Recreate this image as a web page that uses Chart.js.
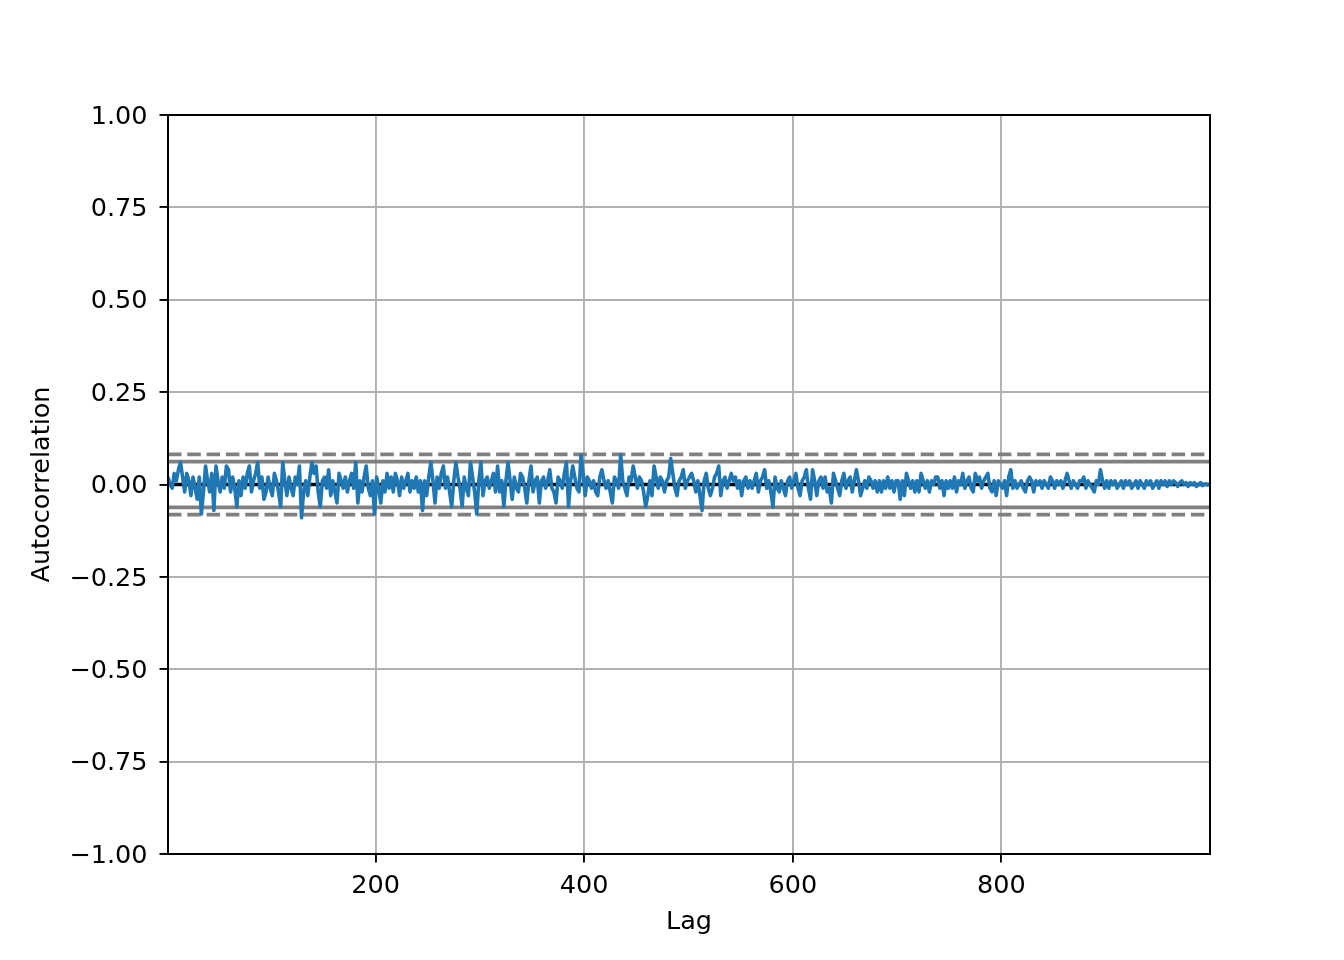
<!DOCTYPE html>
<html>
<head>
<meta charset="utf-8">
<title>Autocorrelation</title>
<script src="https://cdn.jsdelivr.net/npm/chart.js@4/dist/chart.umd.min.js"></script>
<style>
  html, body { margin: 0; padding: 0; background: #fff; }
  canvas { display: block; }
</style>
</head>
<body>
<canvas id="acfChart" width="1344" height="960"></canvas>
<script>
// autocorrelation, one value every 2 lags (lag 1 .. 999)
const firstLag = 1;
const lagStep = 2;
const corrValues = [
   0.02,  0.00, -0.01,  0.03,  0.01,  0.04,  0.06,  0.02, -0.02,  0.03,  0.01, -0.03,  0.02, -0.01, -0.04,  0.02, -0.08, -0.02,  0.05,  0.01, -0.02,  0.03, -0.07,  0.05,  0.01,
  -0.02,  0.02, -0.01,  0.05,  0.04, -0.02,  0.02, -0.01, -0.06,  0.01, -0.03,  0.02, -0.01,  0.03,  0.05, -0.02,  0.01,  0.03,  0.06, -0.01,  0.02, -0.04, -0.02,  0.02, -0.01,
  -0.03,  0.03,  0.01, -0.02, -0.06,  0.06,  0.01, -0.03,  0.02, -0.01, -0.03,  0.02,  0.00,  0.05, -0.09, -0.02,  0.01, -0.03,  0.02,  0.06,  0.03,  0.05, -0.02, -0.06,  0.01,
   0.02, -0.01,  0.04, -0.03,  0.01, -0.02, -0.05,  0.03,  0.01, -0.01,  0.02, -0.02,  0.01,  0.03, -0.01,  0.06, -0.05,  0.01, -0.02,  0.02,  0.05, -0.01, -0.03,  0.01, -0.08,
   0.02, -0.01, -0.05,  0.01, -0.02,  0.03, -0.01,  0.02, -0.02,  0.03,  0.01, -0.03,  0.02, -0.01,  0.01,  0.03, -0.02,  0.01, -0.01,  0.02, -0.02,  0.01, -0.07,  0.01, -0.03,
   0.02,  0.06,  0.01, -0.05,  0.02, -0.01,  0.03,  0.05, -0.01,  0.02, -0.02, -0.06,  0.01,  0.06,  0.02, -0.01, -0.06,  0.02, -0.01, -0.03,  0.06,  0.02, -0.02, -0.08,  0.01,
   0.06, -0.03,  0.01,  0.02, -0.01,  0.01,  0.03, -0.02,  0.05, -0.02,  0.01, -0.06,  0.01,  0.06,  0.01, -0.04,  0.02, -0.01, -0.02,  0.03,  0.02, -0.01, -0.05,  0.01,  0.05,
  -0.02,  0.01,  0.02, -0.05,  0.01,  0.02, -0.01,  0.01,  0.04, -0.01, -0.02, -0.05,  0.02,  0.01, -0.01,  0.03,  0.06, -0.06,  0.01,  0.05,  0.02, -0.01, -0.02,  0.08,  0.03,
  -0.03,  0.02,  0.01, -0.01,  0.01, -0.02, -0.03,  0.02,  0.04,  0.01, -0.01,  0.01, -0.02, -0.05,  0.02,  0.01, -0.01,  0.08,  0.01, -0.01, -0.03,  0.02,  0.01,  0.05,  0.02,
  -0.01,  0.02,  0.01, -0.02, -0.06, -0.03,  0.01, -0.03,  0.05,  0.02, -0.01,  0.02,  0.01, -0.02,  0.01,  0.02,  0.07,  0.03, -0.01, -0.03,  0.01,  0.02,  0.04, -0.01,  0.01,
   0.02,  0.03,  0.01, -0.02,  0.01, -0.03, -0.07,  0.01,  0.03, -0.01, -0.03, -0.01,  0.02,  0.03,  0.05, -0.03,  0.01,  0.02, -0.01,  0.01,  0.03,  0.01,  0.02, -0.01,  0.01,
  -0.03,  0.01,  0.02, -0.01,  0.01, -0.01,  0.01,  0.03, -0.02,  0.01,  0.02,  0.04, -0.01,  0.01, -0.02, -0.06,  0.02, -0.01, -0.02,  0.01, -0.01, -0.03,  0.01,  0.02, -0.01,
   0.01,  0.03, -0.01, -0.03,  0.01,  0.02,  0.04, -0.01, -0.04,  0.04,  0.01, -0.03,  0.01,  0.02, -0.01,  0.02, -0.02, -0.01, -0.05,  0.03,  0.01, -0.01, -0.03,  0.01,  0.03,
  -0.01,  0.01,  0.02, -0.02,  0.01,  0.04,  0.01, -0.03, -0.01,  0.01, -0.01,  0.02,  0.01, -0.01,  0.01, -0.02,  0.01, -0.02,  0.01, -0.01,  0.02, -0.01,  0.01, -0.02,  0.01,
   0.01, -0.04,  0.01, -0.03,  0.03,  0.01, -0.01,  0.01, -0.02,  0.01, -0.02,  0.03,  0.01, -0.01,  0.01, -0.02,  0.01,  0.00,  0.02,  0.02, -0.01,  0.01, -0.03,  0.01, -0.01,
   0.01, -0.01,  0.02, -0.02,  0.01,  0.00,  0.03, -0.01,  0.01,  0.02, -0.01, -0.02,  0.03,  0.01,  0.02, -0.01,  0.01,  0.02,  0.03, -0.01, -0.02,  0.01, -0.03,  0.01,  0.00,
  -0.01,  0.01, -0.03,  0.02,  0.04, -0.01,  0.01, -0.01,  0.00,  0.01, -0.01, -0.02,  0.01,  0.02,  0.01, -0.02,  0.01,  0.00,  0.01, -0.01,  0.01,  0.00, -0.01,  0.02,  0.01,
  -0.01,  0.01,  0.00,  0.01, -0.01,  0.01,  0.03,  0.01, -0.01,  0.01,  0.00, -0.01,  0.01,  0.01,  0.02, -0.01,  0.01,  0.00, -0.01, -0.02,  0.01,  0.00,  0.04,  0.01, -0.01,
   0.01, -0.01,  0.01,  0.00,  0.01, -0.01,  0.00,  0.01, -0.01,  0.01,  0.00,  0.01, -0.01,  0.00,  0.01, -0.01,  0.01,  0.00, -0.01,  0.01,  0.00,  0.01, -0.01,  0.00,  0.01,
  -0.01,  0.01,  0.00,  0.01, -0.005, 0.01,  0.00,  0.01,  0.005, -0.005, 0.005, 0.01,  0.00,  0.005, -0.005, 0.005, 0.00,  0.005, -0.005, 0.00,  0.005, -0.003, 0.002, 0.00, -0.002
];
const lags = corrValues.map((v, i) => firstLag + lagStep * i);

// confidence bands for n = 1000 (95% solid, 99% dashed)
const conf95 = 0.062;
const conf99 = 0.0815;
const lagRange = [1, 1000];

const lagTicks = [200, 400, 600, 800];
const corrTicks = [-1, -0.75, -0.5, -0.25, 0, 0.25, 0.5, 0.75, 1];

function hline(y, color, dash) {
    return {
        data: lagRange.map(x => ({ x: x, y: y })),
        borderColor: color,
        borderWidth: 3.6,
        borderDash: dash || [],
        pointRadius: 0,
        order: 1
    };
}

// matplotlib draws all four spines on top of the data
const frame = {
    id: 'frame',
    afterDraw(chart) {
        const { ctx, chartArea: a } = chart;
        ctx.save();
        ctx.strokeStyle = '#000';
        ctx.lineWidth = 2;
        ctx.strokeRect(a.left, a.top, a.right - a.left, a.bottom - a.top);
        ctx.restore();
    }
};

Chart.defaults.font.family = 'DejaVu Sans';
Chart.defaults.font.size = 25.5;
Chart.defaults.color = '#000';

const ctx = document.getElementById('acfChart').getContext('2d');
new Chart(ctx, {
    type: 'line',
    data: {
        datasets: [
            {
                data: corrValues.map((v, i) => ({ x: lags[i], y: v })),
                borderColor: '#1f77b4',
                borderWidth: 3.6,
                borderJoinStyle: 'round',
                pointRadius: 0,
                tension: 0,
                order: 0
            },
            hline(conf99, '#808080', [13.5, 5.8]),
            hline(conf95, '#808080'),
            hline(0, '#000000'),
            hline(-conf95, '#808080'),
            hline(-conf99, '#808080', [13.5, 5.8])
        ]
    },
    options: {
        responsive: false,
        devicePixelRatio: 1,
        animation: false,
        layout: { padding: { left: 0, top: 115, right: 134, bottom: 0 } },
        plugins: {
            legend: { display: false },
            tooltip: { enabled: false }
        },
        scales: {
            x: {
                type: 'linear',
                min: lagRange[0],
                max: lagRange[1],
                afterBuildTicks: function(scale) {
                    scale.ticks = lagTicks.map(v => ({ value: v }));
                },
                afterFit: function(scale) { scale.height = 106; },
                ticks: { maxRotation: 0, padding: 9 },
                grid: { color: '#b0b0b0', lineWidth: 1.9, tickColor: '#000', tickLength: 8.5, tickWidth: 1.9 },
                border: { color: '#000', width: 2 },
                title: { display: true, text: 'Lag', padding: { top: 0, bottom: 22 } }
            },
            y: {
                min: -1,
                max: 1,
                afterBuildTicks: function(scale) {
                    scale.ticks = corrTicks.map(v => ({ value: v }));
                },
                afterFit: function(scale) { scale.width = 168; },
                ticks: {
                    padding: 12,
                    labelOffset: 2,
                    callback: function(value) {
                        return value.toFixed(2).replace('-', '\u2212');
                    }
                },
                grid: { color: '#b0b0b0', lineWidth: 1.9, tickColor: '#000', tickLength: 8.5, tickWidth: 1.9 },
                border: { color: '#000', width: 2 },
                title: { display: true, text: 'Autocorrelation', padding: { top: 27, bottom: 0 } }
            }
        }
    },
    plugins: [frame]
});
</script>
</body>
</html>
